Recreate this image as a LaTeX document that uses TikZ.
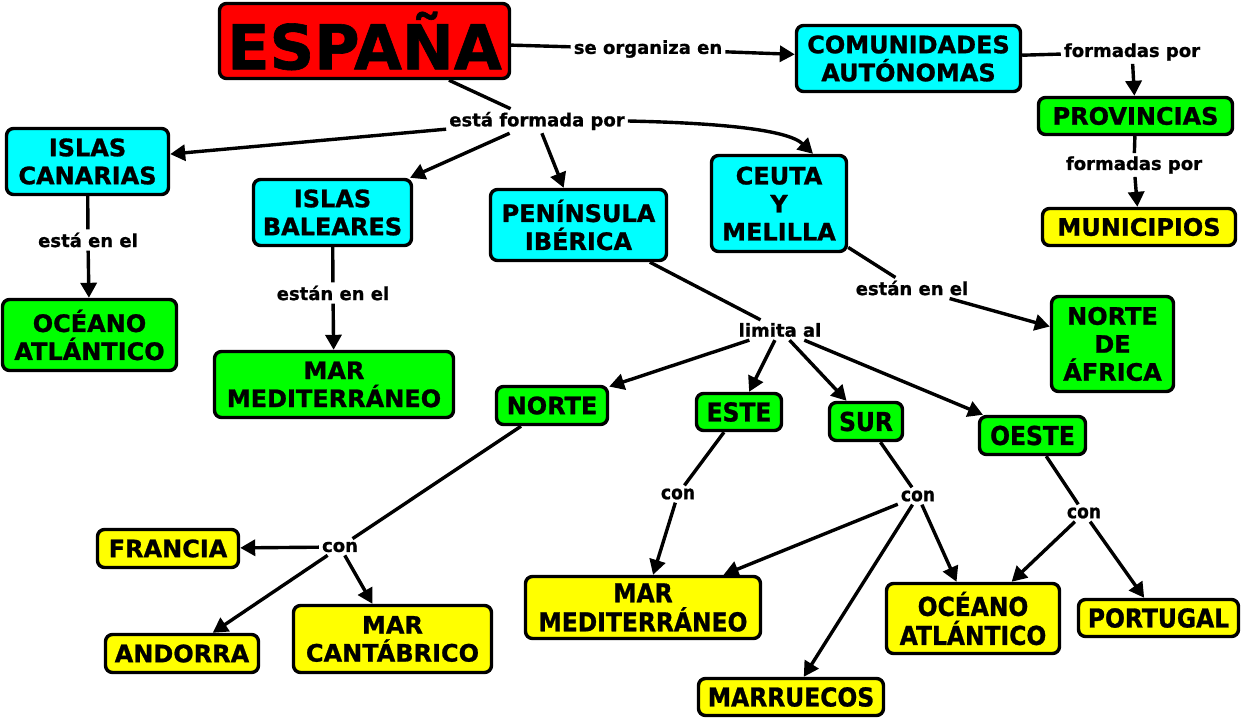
\documentclass[tikz,border=0pt]{standalone}
\usepackage{fontspec}
\setmainfont{DejaVu Sans}[BoldFeatures={FakeBold=1}]
\newfontfamily\condfont{DejaVu Sans}[FakeStretch=0.9, BoldFeatures={FakeBold=1}]
\usetikzlibrary{arrows.meta}
\definecolor{espred}{RGB}{255,0,0}
\definecolor{boxcyan}{RGB}{0,255,255}
\definecolor{boxgreen}{RGB}{0,255,0}
\definecolor{boxyellow}{RGB}{255,255,0}

\begin{document}
\begin{tikzpicture}[x=1pt, y=-1pt, line width=3.4pt, >={Triangle[length=15pt,width=16pt]}, box/.style={draw, rounded corners=7pt, align=center, inner sep=2pt, font=\fontsize{24}{28}\selectfont\bfseries}, cbox/.style={box, fill=boxcyan}, gbox/.style={box, fill=boxgreen}, ybox/.style={box, fill=boxyellow}, narrow/.style={font=\fontsize{26}{29}\selectfont\condfont\bfseries}, lbl/.style={inner sep=1.5pt, font=\fontsize{18}{20}\selectfont\bfseries}, nlbl/.style={lbl, font=\fontsize{19}{20}\selectfont\condfont\bfseries}]
\useasboundingbox (0,0) rectangle (1246,720);
\node[box, fill=espred, minimum width=290, minimum height=75, font=\fontsize{62}{66}\selectfont\bfseries] (espana) at (364.5,41) {ESPAÑA};
\node[cbox, minimum width=224, minimum height=66] (comunidades) at (908.5,58.5) {COMUNIDADES\\AUTÓNOMAS};
\node[gbox, minimum width=194, minimum height=37] (provincias) at (1135.5,116) {PROVINCIAS};
\node[ybox, minimum width=193, minimum height=37] (municipios) at (1139,227) {MUNICIPIOS};
\node[cbox, minimum width=162, minimum height=66] (canarias) at (87.5,161.5) {ISLAS\\CANARIAS};
\node[cbox, minimum width=158, minimum height=66] (baleares) at (332.5,212.5) {ISLAS\\BALEARES};
\node[cbox, minimum width=176, minimum height=71] (peninsula) at (578.5,225) {PENÍNSULA\\IBÉRICA};
\node[cbox, minimum width=135, minimum height=96] (ceuta) at (779,203.5) {CEUTA\\Y\\MELILLA};
\node[gbox, minimum width=174, minimum height=71] (atlanticoN) at (89.5,335) {OCÉANO\\ATLÁNTICO};
\node[gbox, minimum width=239, minimum height=66] (mediterraneoN) at (334,384.5) {MAR\\MEDITERRÁNEO};
\node[gbox, minimum width=122, minimum height=95] (africa) at (1112.5,344) {NORTE\\DE\\ÁFRICA};
\node[gbox, minimum width=111, minimum height=38] (norte) at (552,405.5) {NORTE};
\node[gbox, narrow, minimum width=85, minimum height=37] (este) at (739,412) {ESTE};
\node[gbox, narrow, minimum width=73, minimum height=38] (sur) at (866,421.5) {SUR};
\node[gbox, narrow, minimum width=106, minimum height=38] (oeste) at (1032.5,435.5) {OESTE};
\node[ybox, minimum width=141, minimum height=38] (francia) at (168,548.5) {FRANCIA};
\node[ybox, minimum width=153, minimum height=38] (andorra) at (182,653.5) {ANDORRA};
\node[ybox, minimum width=198, minimum height=67] (cantabrico) at (392.5,639) {MAR\\CANTÁBRICO};
\node[ybox, narrow, minimum width=235, minimum height=62] (mediterraneoS) at (643,607.5) {MAR\\MEDITERRÁNEO};
\node[ybox, narrow, minimum width=173, minimum height=70] (atlanticoS) at (973,618.5) {OCÉANO\\ATLÁNTICO};
\node[ybox, narrow, minimum width=160, minimum height=37] (portugal) at (1158.5,618) {PORTUGAL};
\node[ybox, narrow, minimum width=185, minimum height=37] (marruecos) at (791,697) {MARRUECOS};
\node[lbl] (organiza) at (648,49) {se organiza en};
\node[lbl] (formadas) at (1132,52) {formadas por};
\node[lbl] (formadasb) at (1134,165) {formadas por};
\node[lbl] (formada) at (537,121) {está formada por};
\node[lbl] (estaen) at (88,240) {está en el};
\node[lbl] (estanen) at (333,293) {están en el};
\node[lbl] (estanenb) at (912,288) {están en el};
\node[lbl] (limita) at (780,330) {limita al};
\node[lbl] (connorte) at (340,547) {con};
\node[nlbl] (coneste) at (678,494) {con};
\node[nlbl] (consur) at (918,496) {con};
\node[nlbl] (conoeste) at (1084,513) {con};
\draw (espana) -- (organiza);
\draw[->] (organiza) -- (comunidades);
\draw (comunidades) -- (formadas);
\draw[->] (formadas) -- (provincias);
\draw (provincias) -- (formadasb);
\draw[->] (formadasb) -- (municipios);
\draw (espana) -- (formada);
\draw[->] (formada) -- (canarias);
\draw[->] (formada) -- (baleares);
\draw[->] (formada) -- (peninsula);
\draw[->] (formada.east) .. controls +(93,2) and +(-25,-24) .. ([xshift=34pt]ceuta.north);
\draw (canarias) -- (estaen);
\draw[->] (estaen) -- (atlanticoN);
\draw (baleares) -- (estanen);
\draw[->] (estanen) -- (mediterraneoN);
\draw (ceuta) -- (estanenb);
\draw[->] (estanenb) -- (africa);
\draw (peninsula) -- (limita);
\draw[->] (limita) -- (norte);
\draw[->] (limita) -- (este);
\draw[->] (limita) -- (sur);
\draw[->] (limita) -- (oeste);
\draw (norte) -- (connorte);
\draw[->] (connorte) -- (francia);
\draw[->] (connorte) -- (andorra);
\draw[->] (connorte) -- (cantabrico);
\draw (este) -- (coneste);
\draw[->] (coneste) -- (mediterraneoS);
\draw (sur) -- (consur);
\draw[->] (consur) -- (mediterraneoS);
\draw[->] (consur) -- (marruecos);
\draw[->] (consur) -- (atlanticoS);
\draw (oeste) -- (conoeste);
\draw[->] (conoeste) -- (atlanticoS);
\draw[->] (conoeste) -- (portugal);
\end{tikzpicture}
\end{document}
